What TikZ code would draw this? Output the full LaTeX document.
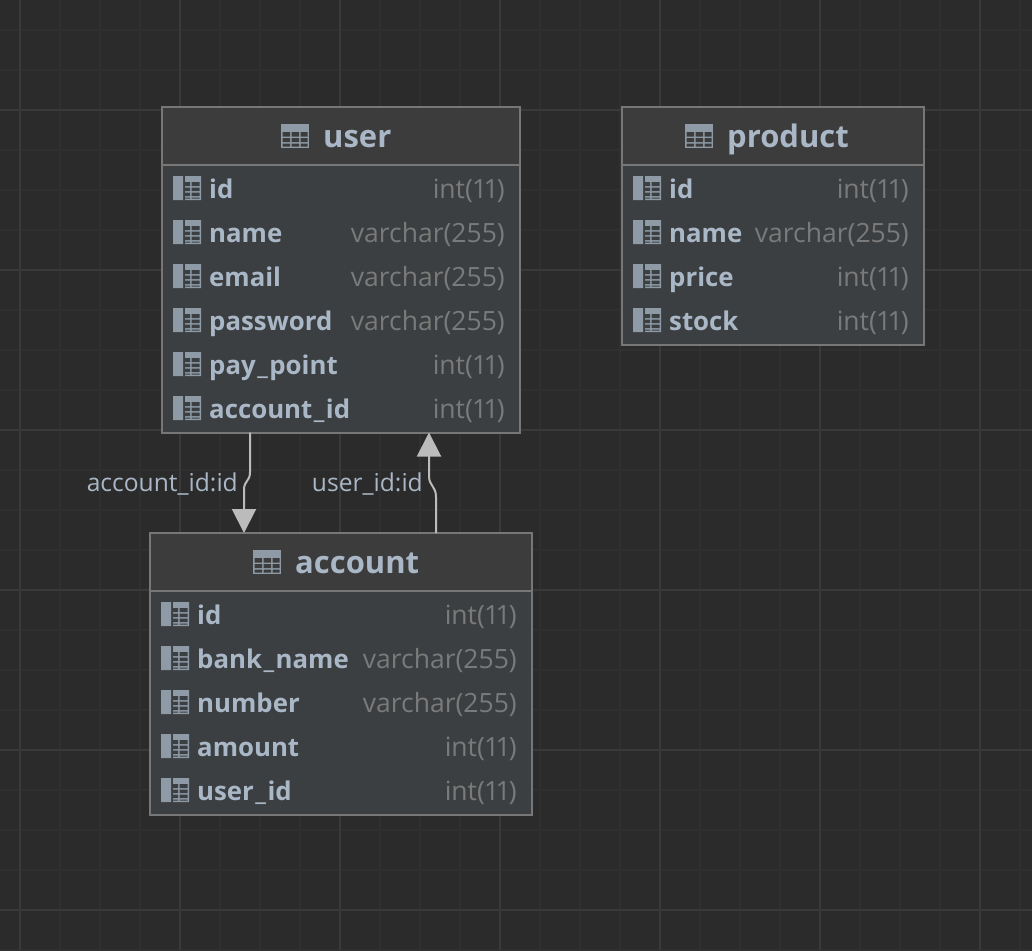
\documentclass[tikz,border=0pt]{standalone}
\usepackage{fontspec}
\setmainfont[Numbers=Proportional]{Open Sans}
\usetikzlibrary{arrows.meta}
\definecolor{bgc}{HTML}{2B2B2B}
\definecolor{gridminor}{HTML}{303030}
\definecolor{gridmajor}{HTML}{3A3A3A}
\definecolor{headc}{HTML}{3C3C3C}
\definecolor{bodyc}{HTML}{3C3F41}
\definecolor{edgec}{HTML}{777777}
\definecolor{textc}{HTML}{A9B7C6}
\definecolor{typec}{HTML}{7A7A7A}
\definecolor{iconc}{HTML}{8E9BA6}
\definecolor{linkc}{HTML}{BBBBBB}
\newcommand{\usc}{\kern1.5pt\_\kern1.5pt}
\newcommand{\intt}{int(\kern1pt 1\kern1pt 1\kern1pt)}
\tikzset{
  x=1pt,y=-1pt,
  tablebox/.style={draw=edgec,line width=2pt,fill=bodyc,inner sep=0pt,outer sep=0pt,anchor=north west},
  titletext/.style={inner sep=0pt,anchor=base west,text=textc,font=\fontsize{31}{31}\selectfont\bfseries},
  fieldtext/.style={inner sep=0pt,anchor=base west,text=textc,font=\fontsize{25.8}{26}\selectfont\bfseries},
  typetext/.style={inner sep=0pt,anchor=base east,text=typec,font=\fontsize{26.5}{26}\selectfont},
  linktext/.style={inner sep=0pt,anchor=base east,text=textc,font=\fontsize{24.6}{26}\selectfont},
  link/.style={draw=linkc,line width=2pt,-{Triangle[length=24pt,width=24pt,fill=linkc]}},
  tableicon/.pic={
    \fill[iconc] (0,0) rectangle (28,24);
    \fill[headc] (1.5,8) rectangle (9,12.5) (10.5,8) rectangle (18,12.5) (19.5,8) rectangle (26.5,12.5)
                 (1.5,14) rectangle (9,18) (10.5,14) rectangle (18,18) (19.5,14) rectangle (26.5,18)
                 (1.5,19.5) rectangle (9,22.5) (10.5,19.5) rectangle (18,22.5) (19.5,19.5) rectangle (26.5,22.5);
  },
  fieldicon/.pic={
    \fill[iconc] (0,0) rectangle (10,24) (12,0) rectangle (28,24);
    \fill[bodyc] (12,6) rectangle (17,10) (12,11.5) rectangle (17,15) (12,16.5) rectangle (17,20)
                 (18.5,6) rectangle (26.5,10) (18.5,11.5) rectangle (26.5,15) (18.5,16.5) rectangle (26.5,20)
                 (12,21.5) rectangle (17,22.5) (18.5,21.5) rectangle (26.5,22.5);
  },
}
\begin{document}
\begin{tikzpicture}
\useasboundingbox (0,0) rectangle (1032,950);
\fill[bgc] (0,0) rectangle (1032,950);
\foreach \x in {20,60,...,1020} \draw[gridminor,line width=2pt] (\x,0) -- (\x,950);
\foreach \y in {30,70,...,950} \draw[gridminor,line width=2pt] (0,\y) -- (1032,\y);
\foreach \x in {20,180,340,500,660,820,980} \draw[gridmajor,line width=2pt] (\x,0) -- (\x,950);
\foreach \y in {110,270,430,590,750,910} \draw[gridmajor,line width=2pt] (0,\y) -- (1032,\y);

% user
\node[tablebox,minimum width=357.5pt,minimum height=325.5pt] (user) at (162,107) {};
\fill[headc] (163,108) rectangle (518.5,164);
\draw[edgec,line width=2pt] (163,165) -- (519,165);
\pic at (281,124) {tableicon};
\node[titletext] (usert) at (323,147) {user};
% account
\node[tablebox,minimum width=381.5pt,minimum height=281.5pt] (account) at (150,533) {};
\fill[headc] (151,534) rectangle (530.5,590);
\draw[edgec,line width=2pt] (151,591) -- (531,591);
\pic at (253,550) {tableicon};
\node[titletext] (accountt) at (295,573) {account};
% product
\node[tablebox,minimum width=301.5pt,minimum height=237.5pt] (product) at (622,107) {};
\fill[headc] (623,108) rectangle (922.5,164);
\draw[edgec,line width=2pt] (623,165) -- (923,165);
\pic at (685,124) {tableicon};
\node[titletext] (productt) at (727,147) {product};

% rows
\foreach \n/\y/\f/\t in {a/189/id/\intt,b/233/name/varchar(255),c/277/email/varchar(255),d/321/password/varchar(255),e/365/pay\usc point/\intt,f/409/account\usc id/\intt}{
  \pic at (173,\y-13) {fieldicon};
  \node[fieldtext] (u\n) at (209,\y+9) {\f};
  \node[typetext] (ut\n) at (505,\y+9) {\t};
}
\foreach \n/\y/\f/\t in {a/189/id/\intt,b/233/name/varchar(255),c/277/price/\intt,d/321/stock/\intt}{
  \pic at (633,\y-13) {fieldicon};
  \node[fieldtext] (p\n) at (669,\y+9) {\f};
  \node[typetext] (pt\n) at (909,\y+9) {\t};
}
\foreach \n/\y/\f/\t in {a/615/id/\intt,b/659/bank\usc name/varchar(255),c/703/number/varchar(255),d/747/amount/\intt,e/791/user\usc id/\intt}{
  \pic at (161,\y-13) {fieldicon};
  \node[fieldtext] (a\n) at (197,\y+9) {\f};
  \node[typetext] (at\n) at (517,\y+9) {\t};
}

% connectors
\coordinate (l1) at (user.south west -| 250,0);
\coordinate (l2) at (account.north west -| 244,0);
\coordinate (r1) at (account.north west -| 436,0);
\coordinate (r2) at (user.south west -| 429,0);
\path[link] (l1) -- (250,472) .. controls (250,482) and (244,480) .. (244,490) -- (l2);
\path[link] (r1) -- (436,497) .. controls (436,486) and (429,486) .. (429,476) -- (r2);
\node[linktext] (ll) at (238,491) {account\_id:id};
\node[linktext] (rl) at (423,491) {user\_id:id};
\end{tikzpicture}
\end{document}
